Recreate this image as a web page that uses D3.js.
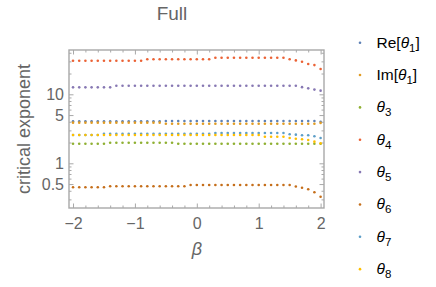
<!DOCTYPE html>
<html>
<head>
<meta charset="utf-8">
<script src="https://cdn.jsdelivr.net/npm/d3@7"></script>
<style>
  body { margin: 0; background: #fff; }
  text { font-family: "Liberation Sans", Arial, sans-serif; }
</style>
</head>
<body>
<script>
// beta values, -2 .. 2 in steps of 0.1
var beta = [-2.0, -1.9, -1.8, -1.7, -1.6, -1.5, -1.4, -1.3, -1.2, -1.1,
            -1.0, -0.9, -0.8, -0.7, -0.6, -0.5, -0.4, -0.3, -0.2, -0.1,
             0.0,  0.1,  0.2,  0.3,  0.4,  0.5,  0.6,  0.7,  0.8,  0.9,
             1.0,  1.1,  1.2,  1.3,  1.4,  1.5,  1.6,  1.7,  1.8,  1.9, 2.0];

// critical exponents
var reTheta1 = [4.06, 4.06, 4.06, 4.06, 4.06, 4.06, 4.06, 4.06, 4.06, 4.06,
                4.06, 4.06, 4.06, 4.06, 4.06, 4.10, 4.10, 4.10, 4.10, 4.10,
                4.10, 4.10, 4.10, 4.10, 4.10, 4.10, 4.10, 4.10, 4.10, 4.10,
                4.10, 4.10, 4.10, 4.10, 4.10, 4.10, 4.10, 4.10, 4.10, 4.10, 4.00];
var imTheta1 = [3.88, 3.88, 3.88, 3.88, 3.88, 3.88, 3.88, 3.88, 3.88, 3.88,
                3.88, 3.88, 3.88, 3.88, 3.88, 3.75, 3.75, 3.75, 3.75, 3.75,
                3.75, 3.75, 3.75, 3.75, 3.75, 3.75, 3.75, 3.75, 3.75, 3.75,
                3.75, 3.75, 3.75, 3.75, 3.75, 3.75, 3.75, 3.75, 3.75, 3.75, 3.85];
var theta3 = [1.92, 1.92, 1.92, 1.92, 1.92, 1.92, 1.99, 1.99, 1.99, 1.99,
              1.99, 1.99, 1.99, 1.99, 1.99, 1.99, 1.99, 1.92, 1.92, 1.92,
              1.92, 1.92, 1.92, 1.92, 1.92, 1.92, 1.92, 1.92, 1.92, 1.92,
              1.92, 1.92, 1.92, 1.92, 1.92, 1.92, 1.92, 1.92, 1.92, 1.92, 1.92];
var theta4 = [30.7, 30.7, 30.7, 30.7, 30.7, 30.7, 30.7, 30.7, 30.7, 30.7,
              30.7, 30.7, 32.2, 32.2, 32.2, 32.2, 32.2, 32.2, 32.2, 32.2,
              32.2, 32.2, 32.2, 33.9, 33.9, 33.9, 33.9, 33.9, 33.9, 33.9,
              33.9, 33.9, 33.9, 33.9, 33.9, 32.2, 31.0, 29.6, 27.5, 26.5, 23.3];
var theta5 = [12.6, 12.6, 12.6, 12.6, 12.6, 12.6, 12.6, 13.3, 13.3, 13.3,
              13.3, 13.3, 13.3, 13.3, 13.3, 13.3, 13.3, 13.3, 13.3, 13.3,
              13.3, 13.3, 13.3, 13.3, 13.3, 13.3, 13.3, 13.3, 13.3, 13.3,
              13.3, 13.3, 13.3, 13.3, 13.3, 13.3, 13.3, 12.7, 12.2, 11.7, 11.3];
var theta6 = [0.449, 0.449, 0.449, 0.449, 0.449, 0.449, 0.464, 0.464, 0.464, 0.464,
              0.464, 0.464, 0.464, 0.464, 0.464, 0.464, 0.464, 0.464, 0.464, 0.485,
              0.485, 0.485, 0.485, 0.485, 0.485, 0.485, 0.485, 0.485, 0.485, 0.485,
              0.485, 0.485, 0.485, 0.485, 0.485, 0.485, 0.460, 0.443, 0.420, 0.380, 0.328];
var theta7 = [2.57, 2.57, 2.57, 2.57, 2.57, 2.68, 2.68, 2.68, 2.68, 2.68,
              2.68, 2.68, 2.68, 2.68, 2.68, 2.68, 2.68, 2.68, 2.68, 2.68,
              2.68, 2.68, 2.68, 2.75, 2.75, 2.75, 2.75, 2.75, 2.75, 2.75,
              2.75, 2.75, 2.75, 2.75, 2.75, 2.63, 2.60, 2.55, 2.55, 2.46, 2.33];
var theta8 = [2.57, 2.57, 2.57, 2.57, 2.57, 2.57, 2.57, 2.57, 2.57, 2.57,
              2.57, 2.57, 2.57, 2.57, 2.57, 2.57, 2.57, 2.57, 2.57, 2.57,
              2.57, 2.57, 2.57, 2.57, 2.57, 2.57, 2.57, 2.57, 2.57, 2.57,
              2.57, 2.43, 2.43, 2.43, 2.43, 2.33, 2.27, 2.23, 2.18, 2.06, 1.95];

var seriesValues = [reTheta1, imTheta1, theta3, theta4, theta5, theta6, theta7, theta8];
// legend labels: [before, italic symbol, subscript, after]
var seriesLabels = [["Re[", "θ", "1", "]"], ["Im[", "θ", "1", "]"],
                    ["", "θ", "3", ""], ["", "θ", "4", ""], ["", "θ", "5", ""],
                    ["", "θ", "6", ""], ["", "θ", "7", ""], ["", "θ", "8", ""]];
var colors = ["#5e81b5", "#e19c24", "#8fb032", "#eb6235", "#8778b3", "#c56e1a", "#5d9ec7", "#ffbf00"];

var xMajor = [-2, -1, 0, 1, 2];
var xMinor = [-1.8, -1.6, -1.4, -1.2, -0.8, -0.6, -0.4, -0.2, 0.2, 0.4, 0.6, 0.8, 1.2, 1.4, 1.6, 1.8];
var yMajor = [0.5, 1, 5, 10];
var yMinor = [0.3, 0.4, 0.6, 0.7, 0.8, 0.9, 2, 3, 4, 6, 7, 8, 9, 20, 30, 40];

var width = 436, height = 287;
var plotLeft = 69, plotRight = 324, plotTop = 50, plotBottom = 208;
var grey = "#666";

var svg = d3.select("body").append("svg")
    .attr("width", width)
    .attr("height", height);

var x = d3.scaleLinear().domain([-2.065, 2.055]).range([plotLeft, plotRight]);
var y = d3.scaleLog().domain([0.225, 43.85]).range([plotBottom, plotTop]);

function fmt(d) { return String(d).replace("-", "\u2212"); }

// frame axes, ticks pointing inwards
function frameAxis(axis, tx, ty, values, size, labels, pad) {
    var g = svg.append("g")
        .attr("transform", "translate(" + tx + "," + ty + ")")
        .call(axis.tickValues(values).tickSize(-size).tickPadding(pad)
            .tickFormat(labels ? fmt : ""));
    g.select(".domain").remove();
    g.selectAll(".tick line").attr("stroke", "#a8a8a8");
    g.selectAll("text").attr("fill", grey).style("font-size", "16px");
    return g;
}
frameAxis(d3.axisBottom(x), 0, plotBottom, xMajor, 4.5, true, 9.5);
frameAxis(d3.axisBottom(x), 0, plotBottom, xMinor, 2.5, false, 0);
frameAxis(d3.axisTop(x), 0, plotTop, xMajor, 4.5, false, 0);
frameAxis(d3.axisTop(x), 0, plotTop, xMinor, 2.5, false, 0);
frameAxis(d3.axisLeft(y), plotLeft, 0, yMajor, 4.5, true, 5);
frameAxis(d3.axisLeft(y), plotLeft, 0, yMinor, 2.5, false, 0);
frameAxis(d3.axisRight(y), plotRight, 0, yMajor, 4.5, false, 0);
frameAxis(d3.axisRight(y), plotRight, 0, yMinor, 2.5, false, 0);

svg.append("rect")
    .attr("x", plotLeft).attr("y", plotTop)
    .attr("width", plotRight - plotLeft).attr("height", plotBottom - plotTop)
    .attr("fill", "none")
    .attr("stroke", "#a8a8a8")
    .attr("stroke-width", 1.4);

// points
seriesValues.forEach(function(vals, k) {
    svg.append("g").selectAll("circle")
        .data(vals)
        .enter().append("circle")
        .attr("cx", function(d, i) { return x(beta[i]); })
        .attr("cy", function(d) { return y(d); })
        .attr("r", 1.3)
        .attr("fill", colors[k]);
});

// titles
svg.append("text")
    .attr("x", 172).attr("y", 19.5)
    .attr("text-anchor", "middle")
    .attr("fill", grey)
    .style("font-size", "19px")
    .text("Full");

svg.append("text")
    .attr("x", 197).attr("y", 255)
    .attr("text-anchor", "middle")
    .attr("fill", grey)
    .style("font-size", "18px")
    .style("font-style", "italic")
    .text("β");

svg.append("text")
    .attr("transform", "translate(29.5,129) rotate(-90)")
    .attr("text-anchor", "middle")
    .attr("fill", grey)
    .style("font-size", "18px")
    .text("critical exponent");

// legend
var legend = svg.append("g").selectAll("g")
    .data(seriesLabels)
    .enter().append("g")
    .attr("transform", function(d, i) { return "translate(360," + (42.7 + i * 32.35) + ")"; });

legend.append("circle")
    .attr("r", 1.3)
    .attr("fill", function(d, i) { return colors[i]; });

var lt = legend.append("text")
    .attr("x", 16.5)
    .attr("y", 5)
    .attr("fill", "#000")
    .style("font-size", "15.5px");
lt.append("tspan").text(function(d) { return d[0]; });
lt.append("tspan").style("font-style", "italic").text(function(d) { return d[1]; });
lt.append("tspan").attr("dy", 4).style("font-size", "11.5px").text(function(d) { return d[2]; });
lt.append("tspan").attr("dy", -4).text(function(d) { return d[3]; });
</script>
</body>
</html>
